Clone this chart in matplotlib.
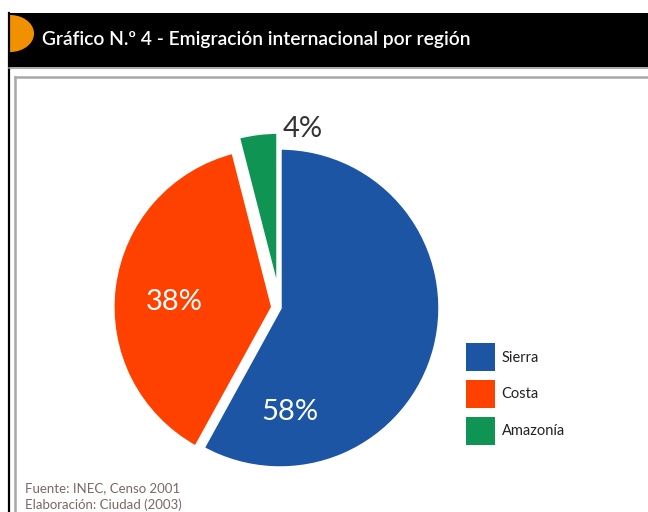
import numpy as np
import matplotlib
matplotlib.use("Agg")
from matplotlib import pyplot as plt
import matplotlib.patches as mpatches

plt.rcParams['font.family'] = ['Lato', 'DejaVu Sans']

# data
regions = ['Sierra', 'Costa', 'Amazonía']
shares = [58, 38, 4]
colors = ['#1b55a3', '#ff4100', '#0f9453']
explode = [0.0, 0.045, 0.1]

title = 'Gráfico N.º 4 - Emigración internacional por región'
source = ['Fuente: INEC, Censo 2001', 'Elaboración: Ciudad (2003)']

fig = plt.figure(figsize=(6.48, 5.12), dpi=100)

# background / frame in pixel coords
bg = fig.add_axes([0, 0, 1, 1])
bg.set_xlim(0, 648)
bg.set_ylim(512, 0)
bg.axis('off')
bg.add_patch(mpatches.Rectangle((9, 13), 640, 54, facecolor='black', edgecolor='none'))
t = np.linspace(-np.pi / 2, np.pi / 2, 60)
bg.add_patch(mpatches.Polygon(np.column_stack([10 + 24 * np.cos(t), 33.5 + 18.5 * np.sin(t)]),
                              facecolor='#f29100', edgecolor='none'))
bg.plot([8.5, 8.5], [13, 512], color='black', lw=1.6)
bg.plot([9, 648], [67.5, 67.5], color='#9a9a9a', lw=1.2)
bg.plot([15, 648], [77, 77], color='#a8a8a8', lw=1.8)
bg.plot([15, 15], [77, 512], color='#a8a8a8', lw=1.8)
bg.text(42, 40, title, color='white', fontsize=13.9, fontweight='semibold', va='center', ha='left')
bg.text(25, 488, source[0], color='#7a6864', fontsize=9.5, va='center')
bg.text(25, 505, source[1], color='#7a6864', fontsize=9.5, va='center')

# pie
cx, cy, half = 280, 308, 200
ax = fig.add_axes([(cx - half) / 648, (512 - cy - half) / 512, 2 * half / 648, 2 * half / 512])
wedges, _ = ax.pie(shares, colors=colors, explode=explode, startangle=90, counterclock=False,
                   radius=1.0, wedgeprops=dict(edgecolor='white', linewidth=2.5))
ax.set_xlim(-1.25, 1.25)
ax.set_ylim(-1.25, 1.25)
ax.set_aspect('auto')
ax.axis('off')

label_pos = [(0.06, -0.65), (-0.66, 0.035), (0.14, 1.12)]
label_col = ['white', 'white', '#333333']
for s, (x, y), c in zip(shares, label_pos, label_col):
    ax.text(x, y, f'{s}%', color=c, fontsize=21, ha='center', va='center', clip_on=False)

handles = [mpatches.Patch(facecolor=c, edgecolor='none') for c in colors]
fig.legend(handles, regions, loc='upper left', bbox_to_anchor=(466 / 648, 1 - 343 / 512),
           bbox_transform=fig.transFigure, frameon=False, borderpad=0, borderaxespad=0,
           fontsize=10.5, handlelength=2.0, handleheight=2.6, labelspacing=0.6,
           handletextpad=0.45, labelcolor='#222222')

fig.savefig('out.png', dpi=100)
